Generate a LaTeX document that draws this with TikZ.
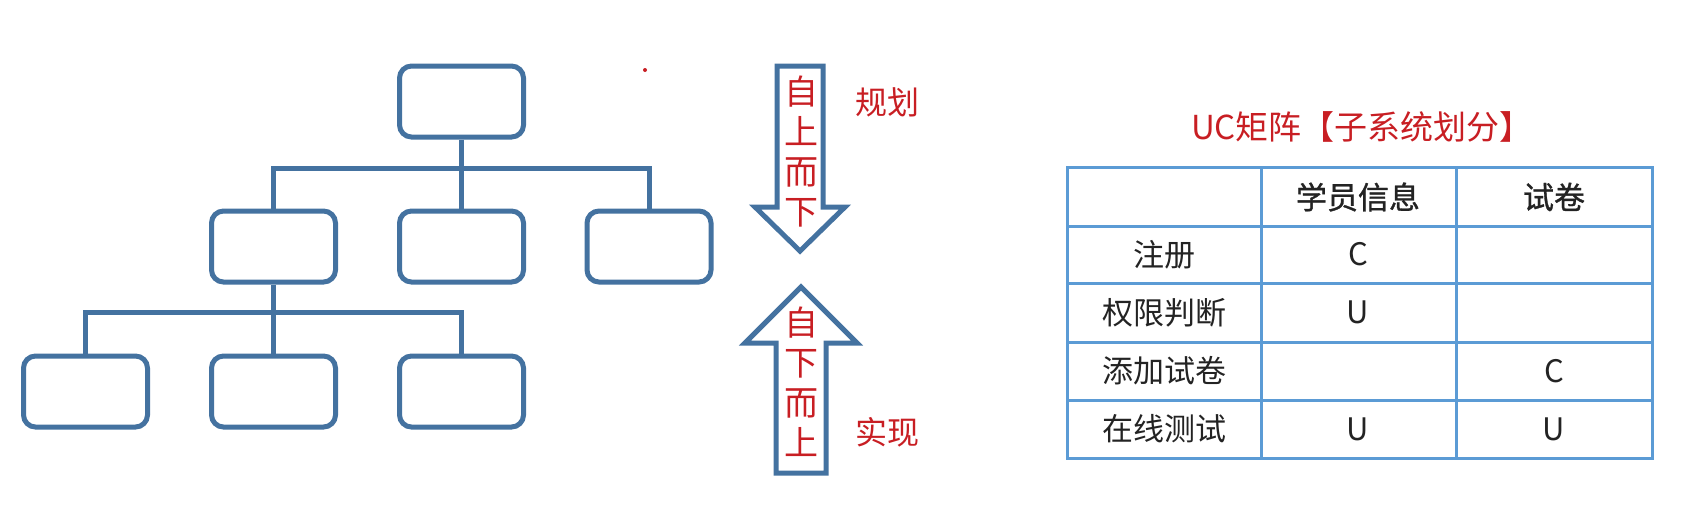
\documentclass[tikz,border=0pt]{standalone}
\usepackage{fontspec}
\setmainfont{Noto Sans CJK SC}
\newfontfamily\hdrfont[FakeBold=1]{Noto Sans CJK SC}
\usepackage{tikz}
\usetikzlibrary{positioning}
\usepackage{xcolor}
\definecolor{boxBlue}{RGB}{68,114,160}
\definecolor{gridBlue}{RGB}{91,155,213}
\definecolor{redText}{RGB}{200,30,35}
\definecolor{cellText}{RGB}{35,35,35}

\begin{document}
\begin{tikzpicture}[x=0.5pt, y=-0.5pt,
    box/.style={rectangle, draw=boxBlue, line width=2.5pt, rounded corners=6pt, minimum width=62pt, minimum height=35.5pt},
    link/.style={draw=boxBlue, line width=2.5pt},
    bigarrow/.style={draw=boxBlue, line width=2.5pt, line join=miter},
    arrowtext/.style={text=redText, align=center, font=\fontsize{17pt}{20pt}\selectfont},
    redlabel/.style={text=redText, font=\fontsize{16pt}{19pt}\selectfont},
    grid/.style={draw=gridBlue, line width=1.5pt},
    cell/.style={text=cellText, font=\fontsize{15.5pt}{18pt}\selectfont},
    hdr/.style={cell, font=\fontsize{15.5pt}{18pt}\hdrfont}
]
\useasboundingbox (0,0) rectangle (1682,510);

% tree of boxes
\node[box] (top) at (461.5,101.5) {};
\node[box] (mid1) at (273.5,246.5) {};
\node[box] (mid2) at (461.5,246.5) {};
\node[box] (mid3) at (649,246.5) {};
\node[box] (bot1) at (85.5,391.5) {};
\node[box] (bot2) at (273.5,391.5) {};
\node[box] (bot3) at (461.5,391.5) {};
\coordinate (bus1) at (0,168);
\coordinate (bus2) at (0,312);

\draw[link] (top.south) -- (mid2.north);
\draw[link] (mid1.north) |- (bus1 -| mid3.north) -- (mid3.north);
\draw[link] (mid1.south) -- (bot2.north);
\draw[link] (bot1.north) |- (bus2 -| bot3.north) -- (bot3.north);

\fill[redText] (645,70) circle[radius=1pt];

% top-down and bottom-up arrows
\draw[bigarrow] (777,66) -- (823,66) -- (823,207) -- (845,207) -- (800,251) -- (755,207) -- (777,207) -- cycle;
\node[arrowtext] (down) at (801,152) {自\\上\\而\\下};
\node[redlabel] (plan) at (887,102) {规划};

\draw[bigarrow] (801,287) -- (857,343) -- (826,343) -- (826,473) -- (776,473) -- (776,343) -- (745,343) -- cycle;
\node[arrowtext] (up) at (801,382) {自\\下\\而\\上};
\node[redlabel] (impl) at (887,432) {实现};

% UC matrix
\node[redlabel, font=\fontsize{16.5pt}{20pt}\selectfont] (title) at (1362,127) {UC矩阵【子系统划分】};
\draw[grid] (1067,167) rectangle (1652,458);
\foreach \x in {1261,1456}
  \draw[grid] (\x,167) -- (\x,458);
\foreach \y in {226,283,342,400}
  \draw[grid] (1067,\y) -- (1652,\y);

\node[hdr] (stu) at (1358,197) {学员信息};
\node[hdr] (paper) at (1554,197) {试卷};
\foreach \lab/\yy [count=\i] in {注册/254.5, 权限判断/312.5, 添加试卷/371, 在线测试/429}
  \node[cell] (row\i) at (1164,\yy) {\lab};
\node[cell] (c11) at (1358,254.5) {C};
\node[cell] (c21) at (1358,312.5) {U};
\node[cell] (c32) at (1554,371) {C};
\node[cell] (c41) at (1358,429) {U};
\node[cell] (c42) at (1554,429) {U};
\end{tikzpicture}
\end{document}
